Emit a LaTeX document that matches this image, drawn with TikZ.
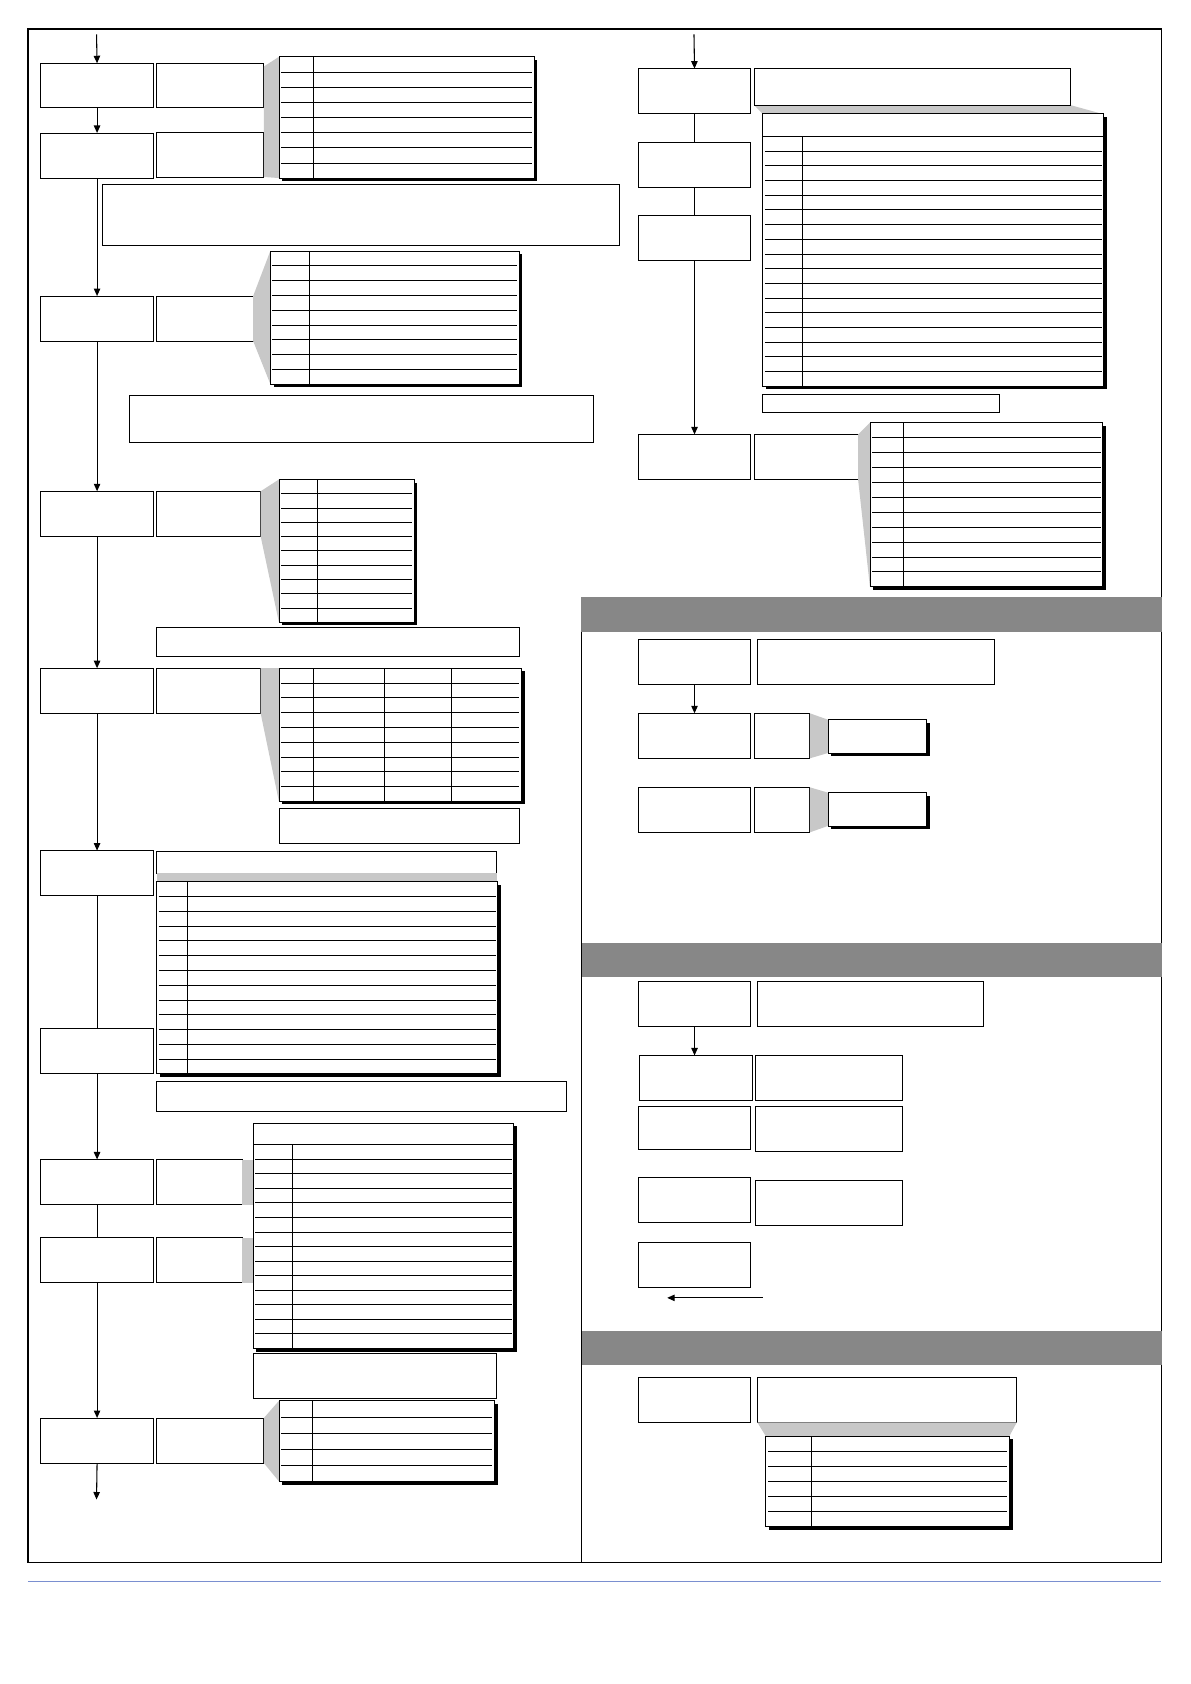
\documentclass[tikz,border=0pt]{standalone}
\usetikzlibrary{arrows.meta}
\definecolor{shd}{HTML}{C8C8C8}
\definecolor{bar}{HTML}{878787}
\definecolor{blu}{HTML}{7A8FD0}
\tikzset{
  bx/.style={draw,line width=0.7pt,fill=white,inner sep=0pt,outer sep=0pt,anchor=north west},
  flow/.style={line width=1pt,-{Triangle[length=7pt,width=6pt]}},
  link/.style={line width=1pt},
}
\newcommand\bx[5]{\node[bx,minimum width=#4pt,minimum height=#5pt] (#1) at (#2,#3) {};}
% \tbl{name}{x}{y}{w}{h}{nrows}{hdr}{cols}
\newcommand\tbl[8]{%
  \fill[black] (#2+3,#3+3) rectangle ++(#4,#5);
  \bx{#1}{#2}{#3}{#4}{#5}
  \pgfmathsetmacro\rh{(#5-#7)/#6}\pgfmathtruncatemacro\nm{#6-1}
  \ifnum#7>0 \draw[line width=0.6pt] (#2,#3+#7) -- ++(#4,0);\fi
  \foreach \i in {1,...,\nm}{\draw[line width=0.6pt] (#2+2,#3+#7+\i*\rh) -- (#2+#4-2,#3+#7+\i*\rh);}
  \foreach \c in {#8}{\draw[line width=0.7pt] (\c,#3+#7) -- (\c,#3+#5);}
}
\begin{document}
\begin{tikzpicture}[x=1pt,y=-1pt]
\useasboundingbox (0,0) rectangle (1110,1570);
% frame
\draw[line width=1.2pt] (26,27) rectangle (1083,1457);
\fill[bar] (542,557) rectangle (1083,589);
\fill[bar] (542,879) rectangle (1083,911);
\fill[bar] (542,1241) rectangle (1083,1273);
\draw[line width=0.8pt] (542,589) -- (542,1457);
\draw[blu,line width=0.5pt] (26,1474) -- (1082,1474);
% ===== left column
\coordinate (top1) at (90,32);
\bx{A1}{38}{59}{105}{41} \bx{B1}{146}{59}{100}{41}
\bx{A2}{38}{124}{105}{42} \bx{B2}{146}{123}{100}{42}
\fill[shd] (246,62)--(260,53)--(260,166)--(246,165)--cycle;
\tbl{T1}{260}{53}{238}{113}{8}{0}{292}
\bx{N1}{95}{172}{482}{57}
\bx{A3}{38}{276}{105}{42} \bx{B3}{146}{276}{90}{42}
\fill[shd] (236,276)--(252,234)--(252,358)--(236,318)--cycle;
\tbl{T2}{252}{234}{232}{124}{9}{0}{288}
\bx{N2}{121}{369}{432}{43}
\bx{A4}{38}{458}{105}{42} \bx{B4}{146}{458}{97}{42}
\fill[shd] (243,458)--(260,447)--(260,580)--(243,500)--cycle;
\tbl{T3}{260}{447}{126}{133}{10}{0}{296}
\bx{N3}{146}{585}{338}{27}
\bx{A5}{38}{623}{105}{42} \bx{B5}{146}{623}{97}{42}
\fill[shd] (243,623)--(260,623)--(260,747)--(243,665)--cycle;
\tbl{T4}{260}{623}{226}{124}{9}{0}{292,358,421}
\bx{N4}{260}{754}{224}{32}
\bx{A6}{38}{793}{105}{42}
\bx{H5}{146}{794}{317}{20}
\fill[shd] (146,814) rectangle (463,821);
\tbl{T5}{146}{822}{318}{179}{13}{0}{175}
\bx{A7}{38}{959}{105}{42}
\bx{N5}{146}{1008}{382}{28}
\bx{A8}{38}{1081}{105}{42} \bx{B8}{146}{1081}{80}{42}
\bx{A9}{38}{1154}{105}{42} \bx{B9}{146}{1154}{80}{42}
\fill[shd] (226,1081) rectangle (236,1123);
\fill[shd] (226,1154) rectangle (236,1196);
\tbl{T6}{236}{1047}{243}{210}{14}{20}{273}
\bx{N6}{236}{1262}{227}{42}
\bx{A10}{38}{1322}{105}{42} \bx{B10}{146}{1322}{100}{42}
\fill[shd] (246,1322)--(260,1306)--(260,1381)--(246,1364)--cycle;
\tbl{T7}{260}{1306}{201}{75}{5}{0}{291}
\coordinate (bot1) at (90,1398);
\draw[flow] (top1) -- (A1.north);
\draw[flow] (A1.south) -- (A2.north);
\draw[flow] (A2.south) -- (A3.north);
\draw[flow] (A3.south) -- (A4.north);
\draw[flow] (A4.south) -- (A5.north);
\draw[flow] (A5.south) -- (A6.north);
\draw[link] (A6.south) -- (A7.north);
\draw[flow] (A7.south) -- (A8.north);
\draw[link] (A8.south) -- (A9.north);
\draw[flow] (A9.south) -- (A10.north);
\draw[flow] (A10.south) -- (bot1);
% ===== right top
\coordinate (top2) at (647,32);
\bx{R1}{595}{64}{105}{42}
\fill[shd] (703,98)--(998,98)--(1027,106)--(711,106)--cycle;
\bx{H8}{703}{64}{295}{34}
\tbl{T8}{711}{106}{318}{254}{17}{21}{748}
\bx{R2}{595}{133}{105}{42}
\bx{R3}{595}{201}{105}{42}
\bx{N8}{711}{368}{221}{16}
\bx{R4}{595}{405}{105}{42} \bx{S4}{703}{405}{97}{42}
\fill[shd] (800,405)--(811,394)--(811,547)--(800,447)--cycle;
\tbl{T9}{811}{394}{217}{153}{11}{0}{842}
\draw[link] (top2) -- ++(0,0);
\draw[flow] (top2) -- (R1.north);
\draw[link] (R1.south) -- (R2.north);
\draw[link] (R2.south) -- (R3.north);
\draw[flow] (R3.south) -- (R4.north);
% ===== section 2
\bx{R5}{595}{596}{105}{42} \bx{S5}{706}{596}{221}{42}
\bx{R6}{595}{665}{105}{42} \bx{S6}{703}{665}{52}{42}
\fill[shd] (755,665)--(772,671)--(772,702)--(755,707)--cycle;
\fill[black] (775,674) rectangle (867,705);
\bx{U6}{772}{671}{92}{31}
\bx{R7}{595}{734}{105}{42} \bx{S7}{703}{734}{52}{42}
\fill[shd] (755,734)--(772,739)--(772,770)--(755,776)--cycle;
\fill[black] (775,742) rectangle (867,773);
\bx{U7}{772}{739}{92}{31}
\draw[flow] (R5.south) -- (R6.north);
% ===== section 3
\bx{R8}{595}{915}{105}{42} \bx{S8}{706}{915}{211}{42}
\bx{R9}{596}{984}{105}{42} \bx{S9}{704}{984}{137}{42}
\bx{R10}{595}{1031}{105}{41} \bx{S10}{704}{1031}{137}{42}
\bx{R11}{595}{1098}{105}{42} \bx{S11}{704}{1100}{137}{42}
\bx{R12}{595}{1158}{105}{42}
\coordinate (ra) at (711,1210); \coordinate (rb) at (622,1210);
\draw[flow] (R8.south) -- (R8.south |- R9.north);
\draw[flow] (ra) -- (rb);
% ===== section 4
\bx{R13}{595}{1284}{105}{42} \bx{S13}{706}{1284}{242}{42}
\fill[shd] (706,1326)--(948,1326)--(941,1339)--(714,1339)--cycle;
\tbl{T10}{714}{1339}{227}{84}{6}{0}{756}
\end{tikzpicture}
\end{document}
